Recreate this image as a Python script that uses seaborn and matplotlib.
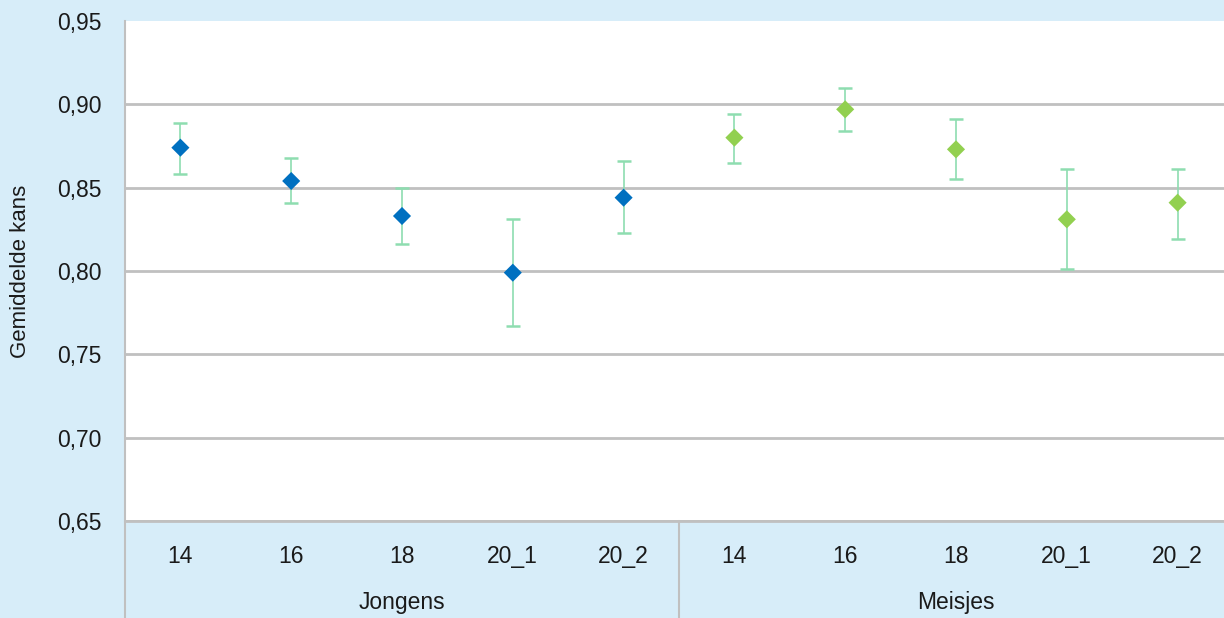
import numpy as np
import pandas as pd
import matplotlib
matplotlib.use("Agg")
import matplotlib.pyplot as plt
import matplotlib.transforms as mtransforms
import seaborn as sns

# Data
groepen = ["Jongens"] * 5 + ["Meisjes"] * 5
leeftijd = ["14", "16", "18", "20_1", "20_2"] * 2
gemiddelde = [0.874, 0.854, 0.833, 0.799, 0.844, 0.880, 0.897, 0.873, 0.831, 0.841]
ondergrens = [0.858, 0.841, 0.816, 0.767, 0.823, 0.865, 0.884, 0.855, 0.801, 0.819]
bovengrens = [0.889, 0.868, 0.850, 0.831, 0.866, 0.894, 0.910, 0.891, 0.861, 0.861]
y_ticks = [0.65, 0.70, 0.75, 0.80, 0.85, 0.90, 0.95]

df = pd.DataFrame({
    "groep": groepen,
    "leeftijd": leeftijd,
    "kans": gemiddelde,
    "laag": ondergrens,
    "hoog": bovengrens,
})
df["pos"] = np.arange(len(df))

sns.set_style("white")
plt.rcParams["font.family"] = ["Liberation Sans", "DejaVu Sans"]

bg = "#D7EDF9"
txt = "#1a1a1a"
grid_col = "#C0C0C0"

fig = plt.figure(figsize=(12.24, 6.18), dpi=100, facecolor=bg)
ax = fig.add_axes([125 / 1224, 97 / 618, 1108 / 1224, 500 / 618])
ax.set_facecolor("white")

# Error bars (light green whiskers for both groups)
ax.errorbar(df["pos"], df["kans"],
            yerr=[df["kans"] - df["laag"], df["hoog"] - df["kans"]],
            fmt="none", ecolor="#8EDDB0", elinewidth=1.2, capsize=5,
            capthick=1.8, zorder=2)

# Diamond markers
sns.scatterplot(data=df, x="pos", y="kans", hue="groep",
                palette={"Jongens": "#0070C0", "Meisjes": "#92D050"},
                marker="D", s=85, edgecolor="none", legend=False,
                ax=ax, zorder=3)

ax.set_xlim(-0.5, len(df) - 0.5)
ax.set_ylim(y_ticks[0], y_ticks[-1])
ax.set_yticks(y_ticks)
ax.set_yticklabels([f"{t:.2f}".replace(".", ",") for t in y_ticks])
ax.set_xticks(df["pos"])
ax.set_xticklabels(df["leeftijd"])

ax.yaxis.grid(True, color=grid_col, linewidth=2)
ax.xaxis.grid(False)
ax.get_ygridlines()[-1].set_visible(False)
ax.set_axisbelow(True)

for side in ["top", "right"]:
    ax.spines[side].set_visible(False)
ax.spines["left"].set_color(grid_col)
ax.spines["left"].set_linewidth(1.5)
ax.spines["bottom"].set_color(grid_col)
ax.spines["bottom"].set_linewidth(2)

ax.tick_params(axis="both", length=0, labelsize=16.5, colors=txt)
ax.tick_params(axis="y", pad=17)
ax.tick_params(axis="x", pad=17)

ax.set_xlabel("")
ax.set_ylabel("Gemiddelde kans", fontsize=16, color=txt)
ax.yaxis.set_label_coords(-0.085, 0.5)

# Group labels and separators below the axis
trans = mtransforms.blended_transform_factory(ax.transData, ax.transAxes)
grp = df.groupby("groep", sort=False)["pos"]
for naam, mid in grp.mean().items():
    ax.text(mid, -0.164, naam, transform=trans, ha="center", va="center",
            fontsize=16.5, color=txt)
grenzen = [-0.5] + list(grp.max() + 0.5)
for g in grenzen:
    ax.plot([g, g], [0, -0.2], transform=trans, color=grid_col,
            linewidth=1.5, clip_on=False)

fig.savefig("out.png", dpi=100, facecolor=bg)
